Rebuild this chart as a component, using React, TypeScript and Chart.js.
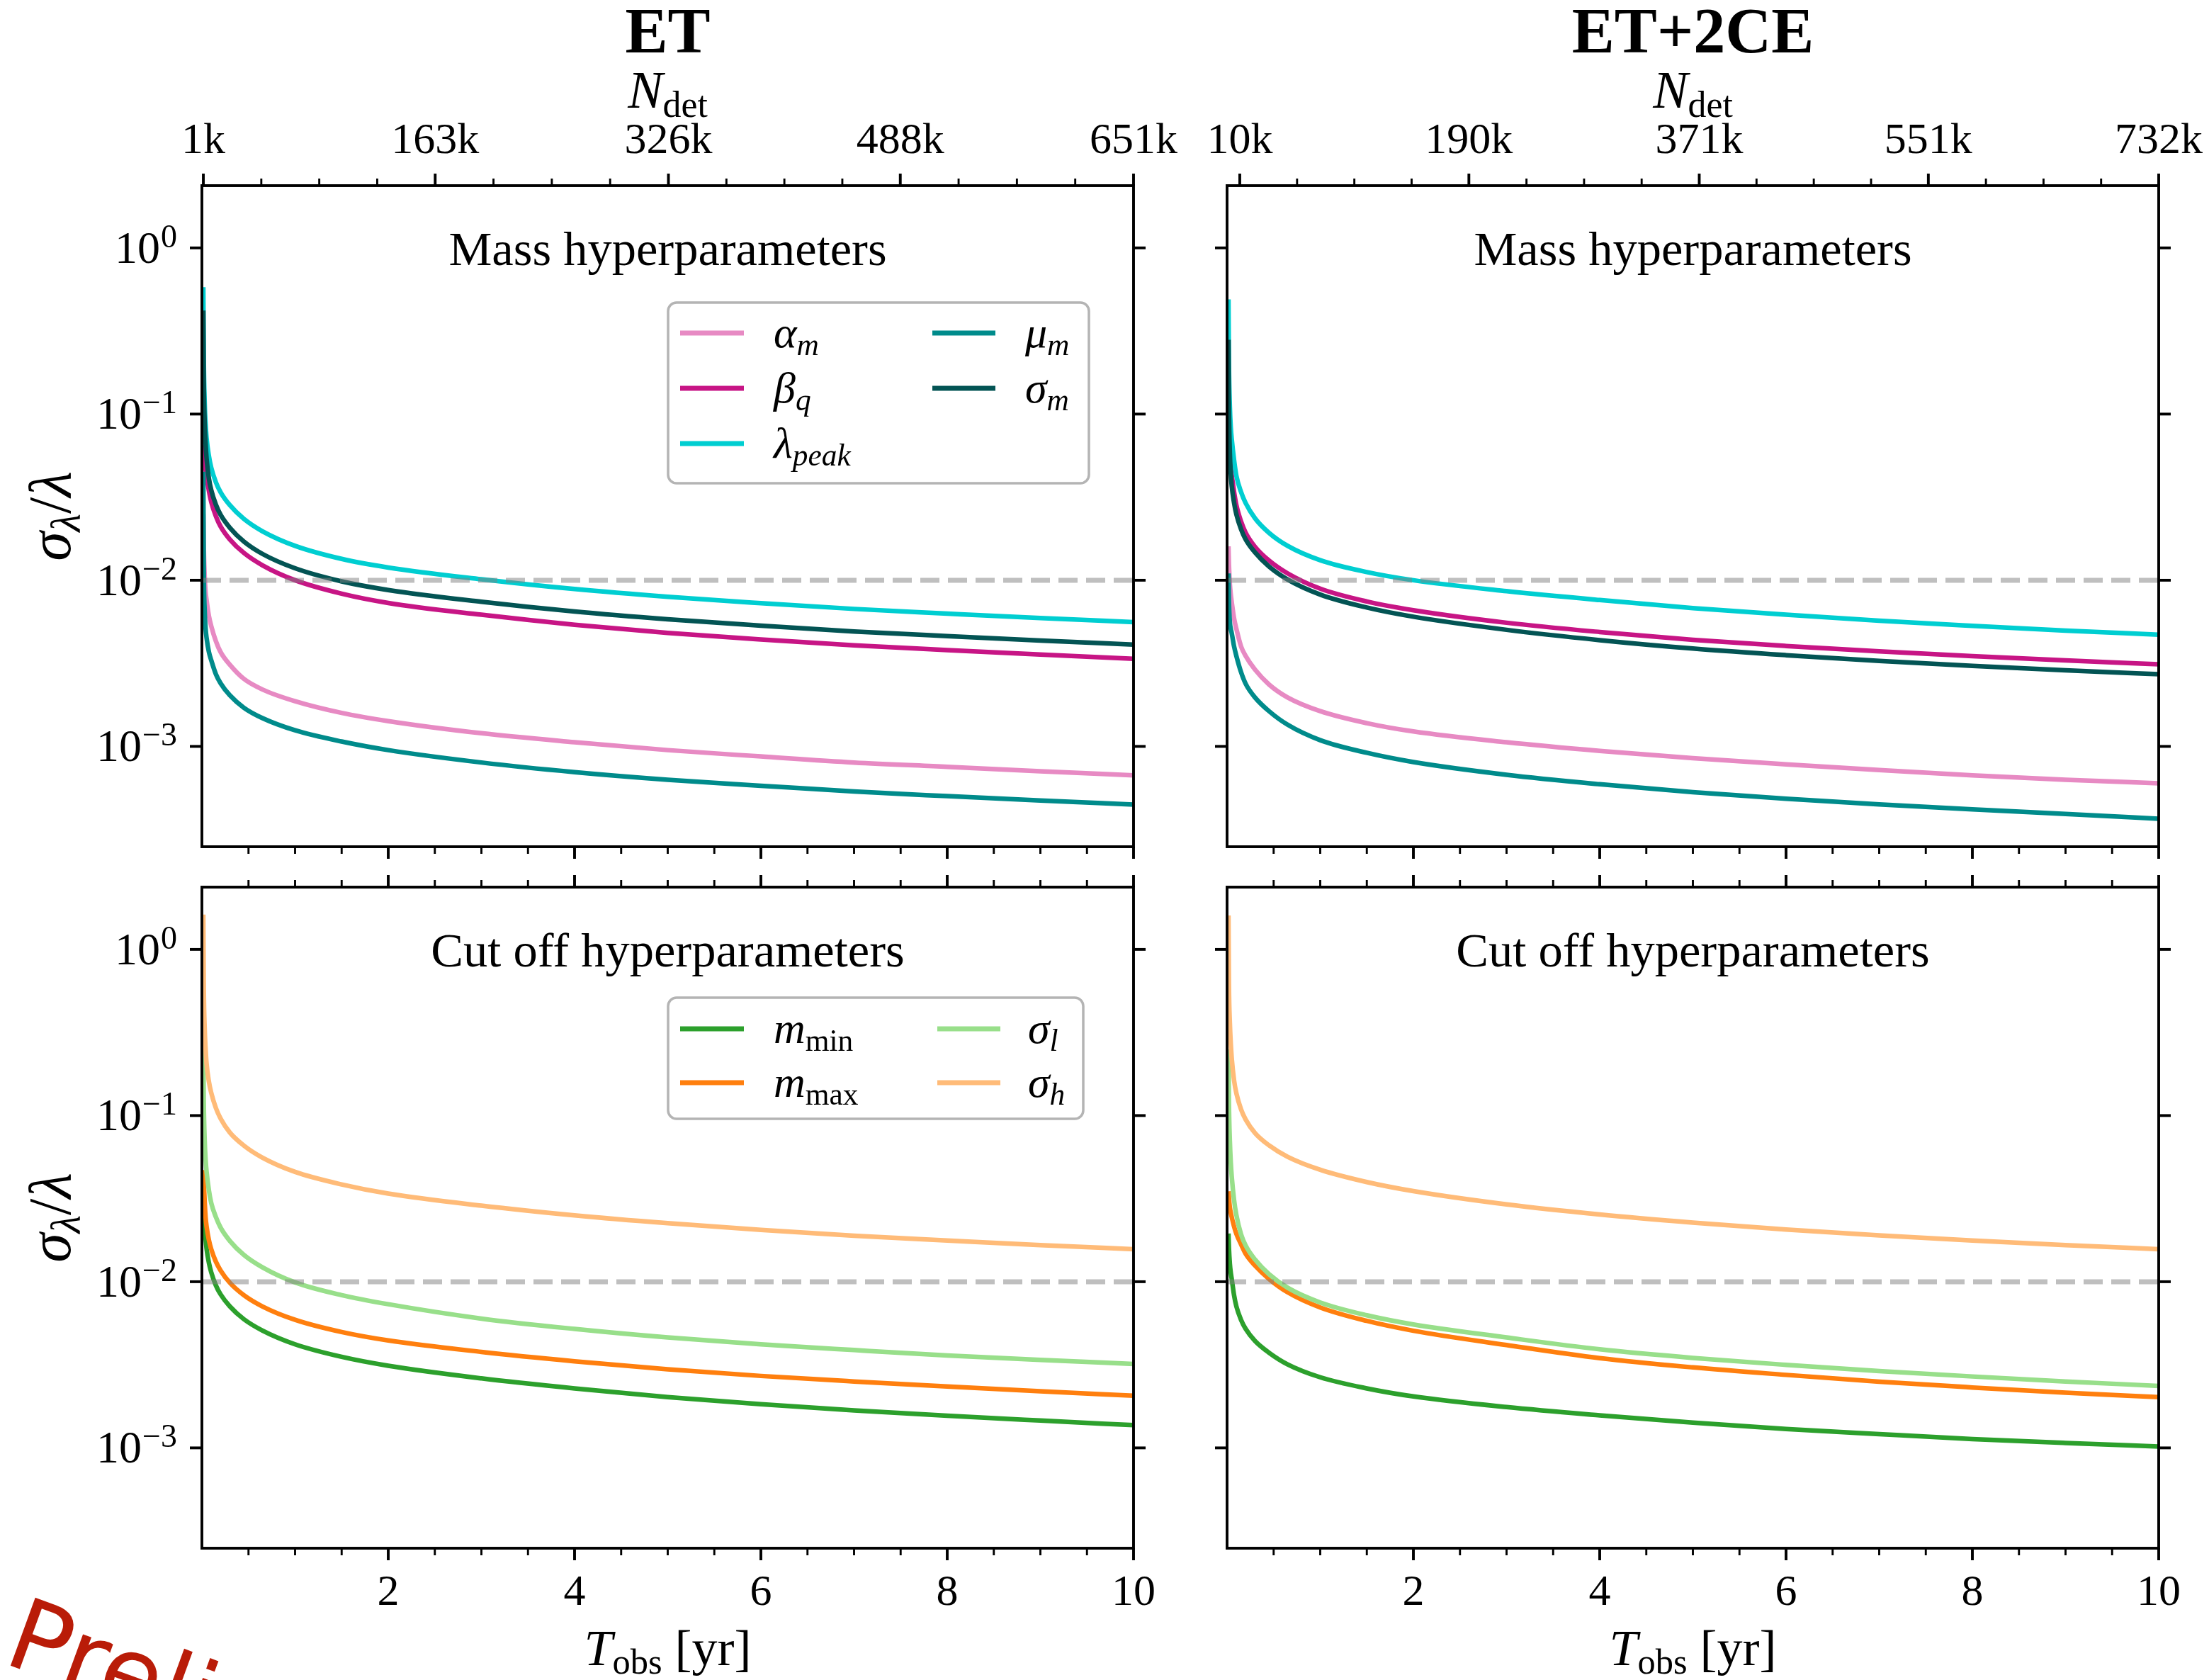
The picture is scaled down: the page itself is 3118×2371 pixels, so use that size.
import React, { useEffect, useRef } from 'react';
import { Chart, registerables } from 'chart.js';

Chart.register(...registerables);

// ---------------- data ----------------
const T_OBS = [0.015, 0.02, 0.03, 0.04, 0.05, 0.075, 0.1, 0.15, 0.2, 0.3, 0.45, 0.65, 1, 1.5, 2, 3, 4, 5, 6, 7, 8, 9, 10];

// ET, mass hyperparameters
const ET_ALPHA_M = [0.025, 0.016, 0.0105, 0.0085, 0.0076, 0.0061, 0.0053, 0.0043, 0.0037, 0.0031, 0.00255, 0.0022, 0.00187, 0.00159, 0.00142, 0.0012, 0.00106, 0.00095, 0.00087, 0.0008, 0.000754, 0.000709, 0.00067];
const ET_BETA_Q = [0.065, 0.06, 0.052, 0.046, 0.042, 0.0345, 0.0296, 0.0243, 0.0211, 0.0176, 0.0146, 0.0123, 0.01, 0.0083, 0.0073, 0.0062, 0.0054, 0.00482, 0.0044, 0.00406, 0.0038, 0.00357, 0.00337];
const ET_LAMBDA_PEAK = [0.58, 0.22, 0.115, 0.087, 0.0717, 0.056, 0.0476, 0.0389, 0.0339, 0.0283, 0.0234, 0.0197, 0.0161, 0.01344, 0.01193, 0.01014, 0.00885, 0.00795, 0.00728, 0.00672, 0.0063, 0.00592, 0.0056];
const ET_MU_M = [0.045, 0.012, 0.0065, 0.0051, 0.0045, 0.0037, 0.0033, 0.00272, 0.0024, 0.00203, 0.00171, 0.00148, 0.00125, 0.00107, 0.00095, 0.0008, 0.0007, 0.00063, 0.00058, 0.000535, 0.000502, 0.000473, 0.000447];
const ET_SIGMA_M = [0.42, 0.16, 0.088, 0.066, 0.054, 0.041, 0.0349, 0.0285, 0.0248, 0.0207, 0.0171, 0.0144, 0.0118, 0.00984, 0.00873, 0.00742, 0.00648, 0.00582, 0.00533, 0.00492, 0.00461, 0.00434, 0.0041];

// ET+2CE, mass hyperparameters
const CE_ALPHA_M = [0.016, 0.0125, 0.0095, 0.0082, 0.0074, 0.0059, 0.0051, 0.004, 0.0035, 0.0029, 0.00236, 0.00197, 0.00163, 0.00138, 0.00123, 0.00106, 0.00094, 0.00085, 0.00078, 0.00072, 0.00067, 0.00063, 0.0006];
const CE_BETA_Q = [0.065, 0.06, 0.053, 0.047, 0.043, 0.034, 0.0283, 0.0226, 0.0193, 0.0159, 0.01315, 0.011, 0.0089, 0.00745, 0.0066, 0.00555, 0.00488, 0.00438, 0.00402, 0.00373, 0.00349, 0.00329, 0.00312];
const CE_LAMBDA_PEAK = [0.49, 0.2, 0.11, 0.083, 0.071, 0.053, 0.0425, 0.034, 0.0291, 0.0236, 0.0193, 0.0161, 0.0132, 0.0112, 0.01, 0.0086, 0.0076, 0.0068, 0.0062, 0.00571, 0.00532, 0.00498, 0.0047];
const CE_MU_M = [0.011, 0.0075, 0.0056, 0.0051, 0.0048, 0.004, 0.0035, 0.0028, 0.00238, 0.00197, 0.00163, 0.00135, 0.00109, 0.000915, 0.000805, 0.000675, 0.000592, 0.00053, 0.000484, 0.000448, 0.000418, 0.000392, 0.000367];
const CE_SIGMA_M = [0.28, 0.11, 0.058, 0.044, 0.037, 0.0293, 0.0249, 0.0203, 0.0176, 0.0147, 0.0121, 0.0101, 0.0082, 0.00685, 0.00603, 0.00503, 0.00436, 0.00388, 0.00354, 0.00327, 0.00305, 0.00287, 0.00272];

// ET, cut off hyperparameters
const ET_M_MIN = [0.035, 0.03, 0.022, 0.018, 0.0158, 0.013, 0.0114, 0.0095, 0.0084, 0.0071, 0.00595, 0.00508, 0.0042, 0.00353, 0.00312, 0.00262, 0.00228, 0.00202, 0.00183, 0.00168, 0.00156, 0.00146, 0.00137];
const ET_M_MAX = [0.047, 0.04, 0.03, 0.0243, 0.0215, 0.0178, 0.0157, 0.0132, 0.0117, 0.00985, 0.0083, 0.0071, 0.0059, 0.00498, 0.00443, 0.00378, 0.00332, 0.00297, 0.00271, 0.00251, 0.00234, 0.00219, 0.00206];
const ET_SIGMA_L = [0.25, 0.12, 0.07, 0.054, 0.046, 0.0355, 0.0298, 0.0245, 0.0212, 0.0176, 0.0145, 0.0122, 0.0099, 0.0083, 0.00732, 0.006, 0.0052, 0.00462, 0.0042, 0.00388, 0.0036, 0.00338, 0.0032];
const ET_SIGMA_H = [1.62, 0.6, 0.33, 0.25, 0.205, 0.16, 0.137, 0.111, 0.096, 0.079, 0.066, 0.0558, 0.0458, 0.0385, 0.0339, 0.0287, 0.0251, 0.0225, 0.0205, 0.0189, 0.0177, 0.0166, 0.0157];

// ET+2CE, cut off hyperparameters
const CE_M_MIN = [0.0195, 0.016, 0.0128, 0.0113, 0.0104, 0.0083, 0.0071, 0.0059, 0.0052, 0.0044, 0.00374, 0.00318, 0.00266, 0.00228, 0.00204, 0.00176, 0.00157, 0.00142, 0.0013, 0.00121, 0.00113, 0.00107, 0.00102];
const CE_M_MAX = [0.035, 0.032, 0.028, 0.026, 0.0245, 0.0215, 0.0194, 0.0168, 0.0147, 0.0125, 0.0104, 0.00864, 0.007, 0.00581, 0.00507, 0.00416, 0.00347, 0.00305, 0.00275, 0.0025, 0.00231, 0.00215, 0.00202];
const CE_SIGMA_L = [0.25, 0.12, 0.07, 0.052, 0.043, 0.031, 0.0252, 0.0193, 0.0165, 0.0136, 0.0111, 0.0092, 0.0075, 0.00628, 0.00553, 0.00462, 0.00392, 0.00348, 0.00316, 0.0029, 0.00269, 0.00251, 0.00236];
const CE_SIGMA_H = [1.6, 0.62, 0.36, 0.27, 0.222, 0.163, 0.136, 0.109, 0.0945, 0.0785, 0.0662, 0.0565, 0.0472, 0.0398, 0.0351, 0.0292, 0.0254, 0.0227, 0.0206, 0.019, 0.0177, 0.0166, 0.0157];

// axis / tick values
const N_DET_ET = [1, 163, 326, 488, 651]; // thousands of detections
const N_DET_CE = [10, 190, 371, 551, 732];
const X_MAJOR = [2, 4, 6, 8, 10];
const Y_MAJOR = [1, 0.1, 0.01, 0.001];
const Y_EXP = ['0', '\u22121', '\u22122', '\u22123'];
const THRESHOLD = 0.01;
const X_MIN = 0;
const X_MAX = 10;
const Y_MIN = 2.49e-4;
const Y_MAX = 2.37;

// ---------------- styles ----------------
const FF = '"Liberation Serif", "DejaVu Serif", serif';
const SANS = '"DejaVu Sans", "Liberation Sans", sans-serif';
const C = {
  alpha: '#e78ac3',
  beta: '#c71585',
  lambda: '#00ced1',
  mu: '#008b8b',
  sigmaM: '#035454',
  mmin: '#2ca02c',
  mmax: '#ff7f0e',
  sigL: '#98df8a',
  sigH: '#ffbb78',
};

type Part = { t: string; it?: boolean; sub?: boolean; sup?: boolean; bold?: boolean };

const L_ALPHA: Part[] = [{ t: '\u03b1', it: true }, { t: 'm', it: true, sub: true }];
const L_BETA: Part[] = [{ t: '\u03b2', it: true }, { t: 'q', it: true, sub: true }];
const L_LAMBDA: Part[] = [{ t: '\u03bb', it: true }, { t: 'peak', it: true, sub: true }];
const L_MU: Part[] = [{ t: '\u03bc', it: true }, { t: 'm', it: true, sub: true }];
const L_SIGM: Part[] = [{ t: '\u03c3', it: true }, { t: 'm', it: true, sub: true }];
const L_MMIN: Part[] = [{ t: 'm', it: true }, { t: 'min', sub: true }];
const L_MMAX: Part[] = [{ t: 'm', it: true }, { t: 'max', sub: true }];
const L_SIGL: Part[] = [{ t: '\u03c3', it: true }, { t: 'l', it: true, sub: true }];
const L_SIGH: Part[] = [{ t: '\u03c3', it: true }, { t: 'h', it: true, sub: true }];

function drawParts(ctx: any, parts: Part[], x: number, y: number, size: number, align: string) {
  const subSize = size * 0.7;
  const meas = parts.map((p) => {
    const fs = p.sub || p.sup ? subSize : size;
    const font = `${p.it ? 'italic ' : ''}${p.bold ? 'bold ' : ''}${fs}px ${FF}`;
    ctx.font = font;
    return { p, font, w: ctx.measureText(p.t).width };
  });
  const total = meas.reduce((a, m) => a + m.w, 0);
  let cx = align === 'left' ? x : align === 'center' ? x - total / 2 : x - total;
  ctx.textAlign = 'left';
  ctx.textBaseline = 'alphabetic';
  for (const m of meas) {
    ctx.font = m.font;
    const dy = m.p.sub ? size * 0.17 : m.p.sup ? -size * 0.37 : 0;
    ctx.fillText(m.p.t, cx, y + dy);
    cx += m.w;
  }
  return total;
}

const massSeries = (a: number[], b: number[], l: number[], m: number[], s: number[]) => [
  { name: L_ALPHA, color: C.alpha, values: a },
  { name: L_BETA, color: C.beta, values: b },
  { name: L_LAMBDA, color: C.lambda, values: l },
  { name: L_MU, color: C.mu, values: m },
  { name: L_SIGM, color: C.sigmaM, values: s },
];
const cutSeries = (mn: number[], mx: number[], sl: number[], sh: number[]) => [
  { name: L_MMIN, color: C.mmin, values: mn },
  { name: L_MMAX, color: C.mmax, values: mx },
  { name: L_SIGL, color: C.sigL, values: sl },
  { name: L_SIGH, color: C.sigH, values: sh },
];

const MASS_LEGEND = {
  box: [943, 427, 1537, 682],
  rowY: [470, 548, 626],
  handleX: [[960, 1050], [1316, 1405]],
  labelX: [1092, 1447],
  items: [[0, 0], [0, 1], [0, 2], [1, 0], [1, 1]],
};
const CUT_LEGEND = {
  box: [943, 1408, 1529, 1579],
  rowY: [1452, 1528],
  handleX: [[960, 1050], [1323, 1412]],
  labelX: [1092, 1451],
  items: [[0, 0], [0, 1], [1, 0], [1, 1]],
};

const PANELS = [
  {
    key: 'tl',
    canvas: { left: 0, top: 0, width: 1666, height: 1224 },
    area: { left: 285, top: 262, right: 1600, bottom: 1195 },
    series: massSeries(ET_ALPHA_M, ET_BETA_Q, ET_LAMBDA_PEAK, ET_MU_M, ET_SIGMA_M),
    title: 'ET',
    nDet: N_DET_ET,
    annotation: 'Mass hyperparameters',
    legend: MASS_LEGEND,
    yLabels: true,
    xLabels: false,
    watermark: false,
  },
  {
    key: 'tr',
    canvas: { left: 1666, top: 0, width: 1452, height: 1224 },
    area: { left: 1732, top: 262, right: 3047, bottom: 1195 },
    series: massSeries(CE_ALPHA_M, CE_BETA_Q, CE_LAMBDA_PEAK, CE_MU_M, CE_SIGMA_M),
    title: 'ET+2CE',
    nDet: N_DET_CE,
    annotation: 'Mass hyperparameters',
    legend: null,
    yLabels: false,
    xLabels: false,
    watermark: false,
  },
  {
    key: 'bl',
    canvas: { left: 0, top: 1224, width: 1666, height: 1147 },
    area: { left: 285, top: 1252, right: 1600, bottom: 2185 },
    series: cutSeries(ET_M_MIN, ET_M_MAX, ET_SIGMA_L, ET_SIGMA_H),
    title: null,
    nDet: null,
    annotation: 'Cut off hyperparameters',
    legend: CUT_LEGEND,
    yLabels: true,
    xLabels: true,
    watermark: true,
  },
  {
    key: 'br',
    canvas: { left: 1666, top: 1224, width: 1452, height: 1147 },
    area: { left: 1732, top: 1252, right: 3047, bottom: 2185 },
    series: cutSeries(CE_M_MIN, CE_M_MAX, CE_SIGMA_L, CE_SIGMA_H),
    title: null,
    nDet: null,
    annotation: 'Cut off hyperparameters',
    legend: null,
    yLabels: false,
    xLabels: true,
    watermark: false,
  },
];

const MAJ = 17;
const MIN = 10;
const SPINE = 3.9;

function makeDecor(spec: any) {
  return {
    id: 'decor_' + spec.key,
    afterDraw(chart: any) {
      const ctx = chart.ctx;
      const xs = chart.scales.x;
      const ys = chart.scales.y;
      const { left: L, right: R, top: T, bottom: B } = chart.chartArea;
      const ox = spec.canvas.left;
      const oy = spec.canvas.top;
      ctx.save();
      ctx.strokeStyle = '#000';
      ctx.fillStyle = '#000';
      ctx.lineCap = 'butt';
      const seg = (x1: number, y1: number, x2: number, y2: number, w: number) => {
        ctx.lineWidth = w;
        ctx.beginPath();
        ctx.moveTo(x1, y1);
        ctx.lineTo(x2, y2);
        ctx.stroke();
      };
      // y ticks on both sides
      for (const v of Y_MAJOR) {
        const py = ys.getPixelForValue(v);
        seg(L - MAJ, py, L, py, SPINE);
        seg(R, py, R + MAJ, py, SPINE);
      }
      // x ticks (bottom, and mirrored on top when there is no N_det axis)
      for (let k = 1; k <= 20; k++) {
        const v = k * 0.5;
        const major = X_MAJOR.includes(v);
        const px = xs.getPixelForValue(v);
        const len = major ? MAJ : MIN;
        const w = major ? SPINE : 2.9;
        seg(px, B, px, B + len, w);
        if (!spec.nDet) seg(px, T, px, T - len, w);
      }
      // N_det ticks on top
      if (spec.nDet) {
        const nMax = spec.nDet[spec.nDet.length - 1];
        const pos = spec.nDet.map((n: number) => (n * X_MAX) / nMax);
        for (let i = 0; i < pos.length; i++) {
          const px = xs.getPixelForValue(pos[i]);
          seg(px, T, px, T - MAJ, SPINE);
          if (i < pos.length - 1) {
            for (let q = 1; q < 4; q++) {
              const pm = xs.getPixelForValue(pos[i] + ((pos[i + 1] - pos[i]) * q) / 4);
              seg(pm, T, pm, T - MIN, 2.9);
            }
          }
          ctx.font = `62px ${FF}`;
          ctx.textAlign = 'center';
          ctx.textBaseline = 'alphabetic';
          ctx.fillText(`${spec.nDet[i]}k`, px, T - 46);
        }
        drawParts(ctx, [{ t: 'N', it: true }, { t: 'det', sub: true }], (L + R) / 2, T - 110, 74, 'center');
      }
      // spines
      ctx.lineWidth = SPINE;
      ctx.strokeRect(L, T, R - L, B - T);

      // y tick labels
      if (spec.yLabels) {
        Y_MAJOR.forEach((v, i) => {
          const py = ys.getPixelForValue(v);
          ctx.font = `46px ${FF}`;
          ctx.textAlign = 'right';
          ctx.textBaseline = 'alphabetic';
          const ew = ctx.measureText(Y_EXP[i]).width;
          ctx.fillText(Y_EXP[i], L - 35, py - 1);
          ctx.font = `64px ${FF}`;
          ctx.fillText('10', L - 35 - ew - 1, py + 21);
        });
        ctx.save();
        ctx.translate(99 - ox, (T + B) / 2);
        ctx.rotate(-Math.PI / 2);
        drawParts(
          ctx,
          [{ t: '\u03c3', it: true }, { t: '\u03bb', it: true, sub: true }, { t: '/' }, { t: '\u03bb', it: true }],
          0,
          0,
          84,
          'center'
        );
        ctx.restore();
      }
      // x tick labels
      if (spec.xLabels) {
        ctx.font = `62px ${FF}`;
        ctx.textAlign = 'center';
        ctx.textBaseline = 'alphabetic';
        for (const v of X_MAJOR) ctx.fillText(String(v), xs.getPixelForValue(v), B + 80);
        drawParts(
          ctx,
          [{ t: 'T', it: true }, { t: 'obs', sub: true }, { t: ' [yr]' }],
          (L + R) / 2,
          B + 165,
          72,
          'center'
        );
      }
      // title
      if (spec.title) {
        ctx.font = `bold 90px ${FF}`;
        ctx.textAlign = 'center';
        ctx.fillText(spec.title, (L + R) / 2, T - 188);
      }
      // annotation
      ctx.font = `68.5px ${FF}`;
      ctx.textAlign = 'center';
      ctx.fillText(spec.annotation, (L + R) / 2, T + 112);

      // legend
      if (spec.legend) {
        const lg = spec.legend;
        const [bx0, by0, bx1, by1] = lg.box;
        ctx.beginPath();
        ctx.roundRect(bx0 - ox, by0 - oy, bx1 - bx0, by1 - by0, 12);
        ctx.fillStyle = 'rgba(255,255,255,0.85)';
        ctx.fill();
        ctx.lineWidth = 3.5;
        ctx.strokeStyle = '#b4b4b4';
        ctx.stroke();
        lg.items.forEach((it: number[], si: number) => {
          const s = spec.series[si];
          const [col, row] = it;
          const y = lg.rowY[row] - oy;
          ctx.strokeStyle = s.color;
          seg(lg.handleX[col][0] - ox, y, lg.handleX[col][1] - ox, y, 6.8);
          ctx.fillStyle = '#000';
          drawParts(ctx, s.name, lg.labelX[col] - ox, y + 20, 62, 'left');
        });
      }

      // watermark
      if (spec.watermark) {
        ctx.save();
        ctx.translate(2 - ox, 2346 - oy);
        ctx.rotate((20 * Math.PI) / 180);
        ctx.font = `140px ${SANS}`;
        ctx.fillStyle = 'rgb(185,28,8)';
        ctx.textAlign = 'left';
        ctx.fillText('Preliminary', 0, 0);
        ctx.restore();
      }
      ctx.restore();
    },
  };
}

function buildConfig(spec: any) {
  const n = spec.series.length;
  const datasets: any[] = spec.series.map((s: any, i: number) => ({
    label: s.name.map((p: Part) => p.t).join(''),
    data: T_OBS.map((t, k) => ({ x: t, y: s.values[k] })),
    borderColor: s.color,
    backgroundColor: s.color,
    borderWidth: 6.5,
    pointRadius: 0,
    fill: false,
    cubicInterpolationMode: 'monotone',
    order: n - i,
    clip: 0,
  }));
  datasets.push({
    label: 'threshold',
    data: [
      { x: X_MIN, y: THRESHOLD },
      { x: X_MAX, y: THRESHOLD },
    ],
    borderColor: 'rgba(128,128,128,0.5)',
    borderWidth: 7,
    borderDash: [27, 12],
    pointRadius: 0,
    fill: false,
    order: 0,
    clip: 0,
  });
  const c = spec.canvas;
  const a = spec.area;
  return {
    type: 'line',
    data: { datasets },
    options: {
      animation: false,
      responsive: false,
      maintainAspectRatio: false,
      events: [],
      layout: {
        padding: {
          left: a.left - c.left,
          top: a.top - c.top,
          right: c.left + c.width - a.right,
          bottom: c.top + c.height - a.bottom,
        },
      },
      scales: {
        x: { type: 'linear', min: X_MIN, max: X_MAX, display: false },
        y: { type: 'logarithmic', min: Y_MIN, max: Y_MAX, display: false },
      },
      plugins: {
        legend: { display: false },
        tooltip: { enabled: false },
        title: { display: false },
      },
    },
    plugins: [makeDecor(spec)],
  };
}

function Panel({ spec }: { spec: any }) {
  const ref = useRef<HTMLCanvasElement | null>(null);
  useEffect(() => {
    const chart = new Chart(ref.current as HTMLCanvasElement, buildConfig(spec) as any);
    return () => chart.destroy();
  }, [spec]);
  const c = spec.canvas;
  return (
    <canvas
      ref={ref}
      width={c.width}
      height={c.height}
      style={{ position: 'absolute', left: c.left, top: c.top, width: c.width, height: c.height }}
    />
  );
}

export default function App() {
  return (
    <div
      style={{
        position: 'absolute',
        left: 0,
        top: 0,
        width: 3118,
        height: 2371,
        background: '#ffffff',
        overflow: 'hidden',
      }}
    >
      {PANELS.map((p) => (
        <Panel key={p.key} spec={p} />
      ))}
    </div>
  );
}
